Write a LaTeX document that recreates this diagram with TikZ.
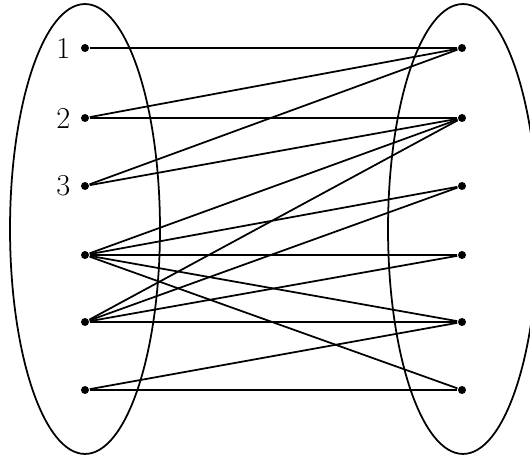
\documentclass[tikz,border=0pt]{standalone}
\usetikzlibrary{positioning}
\begin{document}
\begin{tikzpicture}[x=0.02cm,y=0.02cm,line width=1pt,font=\LARGE,
  dot/.style={circle,fill,inner sep=0pt,minimum size=0.16cm}]
\useasboundingbox (0,0) rectangle (530,459);
\draw (85,230) ellipse (1.5cm and 4.5cm);
\draw (463,230) ellipse (1.5cm and 4.5cm);
% left set
\node[dot] (l1) at (85,411) {};
\node[dot] (l2) at (85,341) {};
\node[dot] (l3) at (85,273) {};
\node[dot] (l4) at (85,204) {};
\node[dot] (l5) at (85,137) {};
\node[dot] (l6) at (85,69) {};
\node[left=0.06cm of l1] (t1) {1};
\node[left=0.06cm of l2] (t2) {2};
\node[left=0.06cm of l3] (t3) {3};
% right set
\node[dot] (r1) at (462,411) {};
\node[dot] (r2) at (462,341) {};
\node[dot] (r3) at (462,273) {};
\node[dot] (r4) at (462,204) {};
\node[dot] (r5) at (462,137) {};
\node[dot] (r6) at (462,69) {};
% edges
\draw (l1)--(r1);
\draw (l2)--(r1); \draw (l2)--(r2);
\draw (l3)--(r1); \draw (l3)--(r2);
\draw (l4)--(r2); \draw (l4)--(r3); \draw (l4)--(r4); \draw (l4)--(r5); \draw (l4)--(r6);
\draw (l5)--(r2); \draw (l5)--(r3); \draw (l5)--(r4); \draw (l5)--(r5);
\draw (l6)--(r5); \draw (l6)--(r6);
\end{tikzpicture}
\end{document}
